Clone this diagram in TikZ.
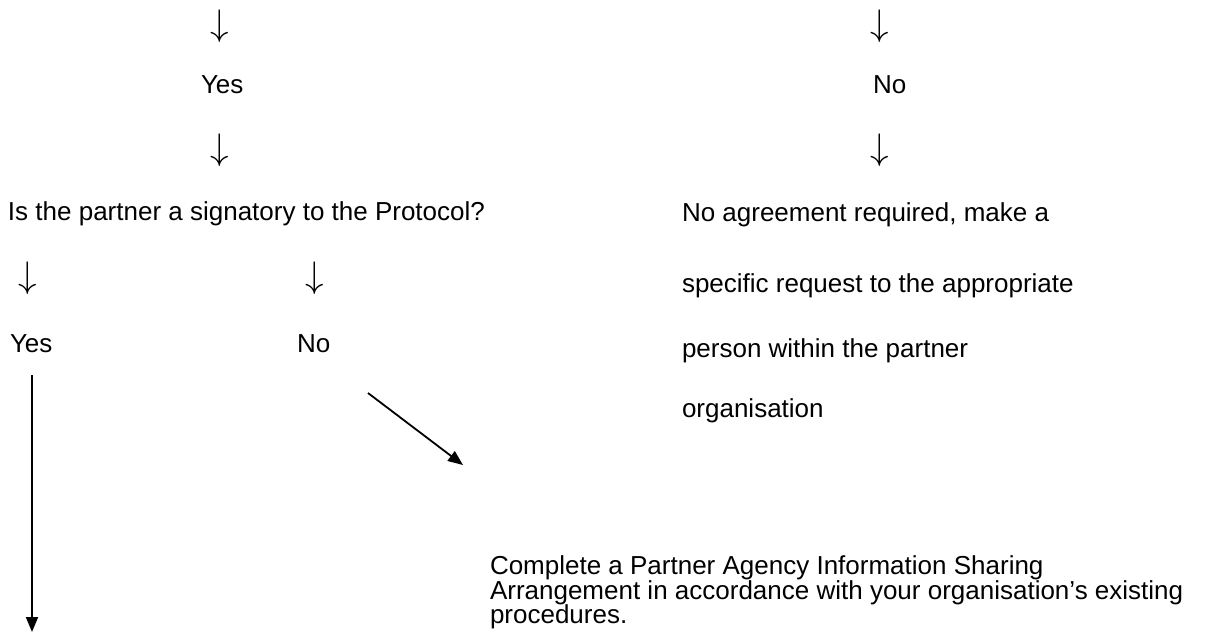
\documentclass[tikz,border=0pt]{standalone}
\usepackage{fontspec}
\setmainfont{Liberation Sans}
\usetikzlibrary{arrows.meta}
\newcommand\dnglyph{\scalebox{3.7}{$\downarrow$}}
\tikzset{
  txt/.style={anchor=base west, inner sep=0pt, outer sep=0pt, font=\fontsize{26}{26}\selectfont},
  dn/.style={anchor=base, inner sep=0pt, outer sep=0pt, font=\fontsize{10}{10}\selectfont},
  para/.style={anchor=north west, inner sep=0pt, outer sep=0pt, align=left, font=\fontsize{26}{24.5}\selectfont},
  conn/.style={line width=1.8pt, -{Triangle[length=15pt,width=12pt]}}
}
\begin{document}
\begin{tikzpicture}[x=1pt,y=-1pt]
\useasboundingbox (0,0) rectangle (1208,643);
% left column
\node[dn] (a1) at (220,35) {\dnglyph};
\node[txt] (yes1) at (201,93) {Yes};
\node[dn] (a2) at (220,159.5) {\dnglyph};
\node[txt] (q) at (8,220) {Is the partner a signatory to the Protocol?};
\node[dn] (a3) at (28,287.5) {\dnglyph};
\node[dn] (a4) at (315,287.5) {\dnglyph};
\node[txt] (yes2) at (10,352) {Yes};
\node[txt] (no2) at (297,352) {No};
% right column
\node[dn] (b1) at (880,35) {\dnglyph};
\node[txt] (no1) at (873,93) {No};
\node[dn] (b2) at (880,159.5) {\dnglyph};
\node[txt] (r1) at (682,221) {No agreement required, make a};
\node[txt] (r2) at (682,292) {specific request to the appropriate};
\node[txt] (r3) at (682,357) {person within the partner};
\node[txt] (r4) at (682,417) {organisation};
% bottom paragraph
\node[para] (c) at (490,556) {Complete a Partner Agency Information Sharing\\Arrangement in accordance with your organisation’s existing\\procedures.};
% connectors
\coordinate (v1) at (32,375);
\coordinate (v2) at (32,632);
\coordinate (d1) at (368,393);
\coordinate (d2) at (463,465);
\draw[conn] (v1) -- (v2);
\draw[conn] (d1) -- (d2);
\end{tikzpicture}
\end{document}
